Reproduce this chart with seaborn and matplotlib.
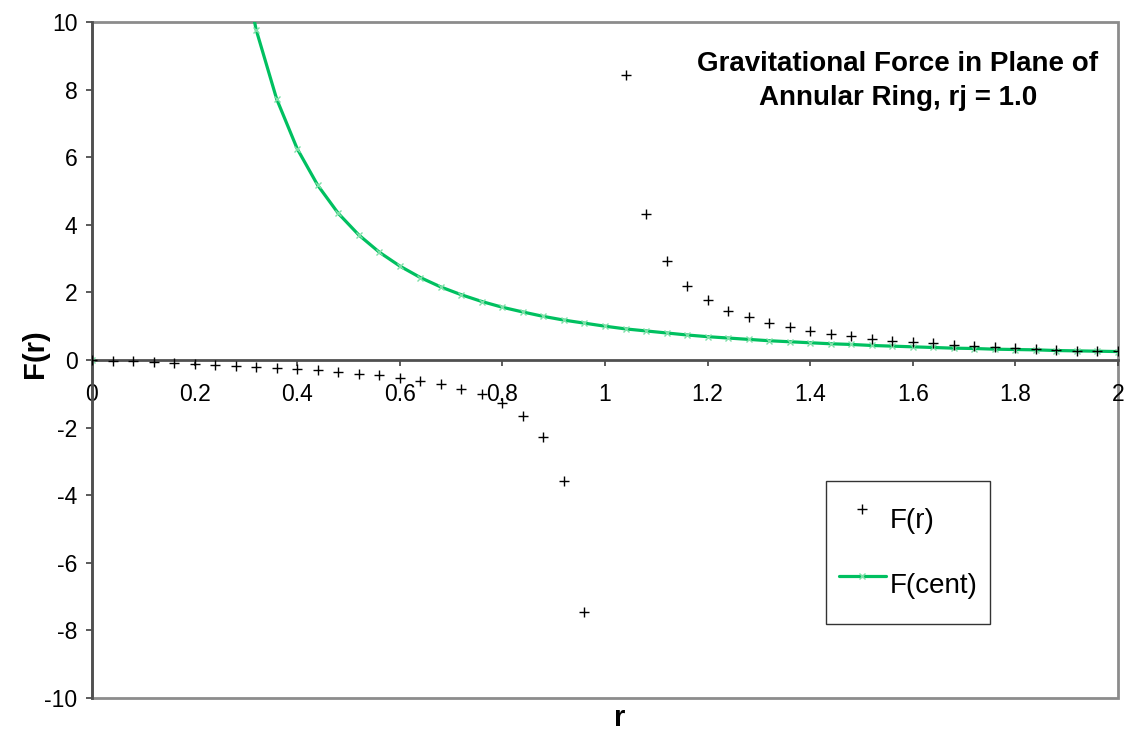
import numpy as np
import pandas as pd
import matplotlib
matplotlib.use("Agg")
import matplotlib.pyplot as plt
import seaborn as sns

# ---- data ----
r_f = [0.00, 0.04, 0.08, 0.12, 0.16, 0.20, 0.24, 0.28, 0.32, 0.36, 0.40, 0.44,
       0.48, 0.52, 0.56, 0.60, 0.64, 0.68, 0.72, 0.76, 0.80, 0.84, 0.88, 0.92,
       0.96, 1.04, 1.08, 1.12, 1.16, 1.20, 1.24, 1.28, 1.32, 1.36, 1.40, 1.44,
       1.48, 1.52, 1.56, 1.60, 1.64, 1.68, 1.72, 1.76, 1.80, 1.84, 1.88, 1.92,
       1.96, 2.00]
f_r = [0.00, -0.02, -0.04, -0.06, -0.09, -0.11, -0.14, -0.17, -0.20, -0.24, -0.27, -0.31,
       -0.35, -0.40, -0.45, -0.52, -0.61, -0.71, -0.86, -1.02, -1.28, -1.65, -2.29, -3.57,
       -7.45, 8.43, 4.32, 2.93, 2.19, 1.77, 1.46, 1.26, 1.09, 0.97, 0.86, 0.77,
       0.70, 0.63, 0.57, 0.52, 0.49, 0.45, 0.42, 0.39, 0.36, 0.33, 0.30, 0.28,
       0.26, 0.26]

r_cent = [0.28, 0.32, 0.36, 0.40, 0.44, 0.48, 0.52, 0.56, 0.60, 0.64, 0.68, 0.72,
          0.76, 0.80, 0.84, 0.88, 0.92, 0.96, 1.00, 1.04, 1.08, 1.12, 1.16, 1.20,
          1.24, 1.28, 1.32, 1.36, 1.40, 1.44, 1.48, 1.52, 1.56, 1.60, 1.64, 1.68,
          1.72, 1.76, 1.80, 1.84, 1.88, 1.92, 1.96, 2.00]
f_cent = [12.76, 9.77, 7.72, 6.25, 5.17, 4.34, 3.70, 3.19, 2.78, 2.44, 2.16, 1.93,
          1.73, 1.56, 1.42, 1.29, 1.18, 1.09, 1.00, 0.92, 0.86, 0.80, 0.74, 0.69,
          0.65, 0.61, 0.57, 0.54, 0.51, 0.48, 0.46, 0.43, 0.41, 0.39, 0.37, 0.35,
          0.34, 0.32, 0.31, 0.30, 0.28, 0.27, 0.26, 0.25]
r_cent0 = [0.0]
f_cent0 = [0.0]

x_ticks = [0, 0.2, 0.4, 0.6, 0.8, 1, 1.2, 1.4, 1.6, 1.8, 2]
x_labels = ["0", "0.2", "0.4", "0.6", "0.8", "1", "1.2", "1.4", "1.6", "1.8", "2"]
y_ticks = [-10, -8, -6, -4, -2, 0, 2, 4, 6, 8, 10]
y_labels = ["-10", "-8", "-6", "-4", "-2", "0", "2", "4", "6", "8", "10"]

title = "Gravitational Force in Plane of\nAnnular Ring, rj = 1.0"

# ---- plotting ----
sns.set_theme(style="white")
plt.rcParams["font.family"] = ["Liberation Sans", "DejaVu Sans"]
plt.rcParams["text.color"] = "black"

fig = plt.figure(figsize=(11.35, 7.49), dpi=100)
ax = fig.add_axes([92 / 1135, 1 - 698 / 749, (1118 - 92) / 1135, (698 - 22) / 749])

green = "#00C060"
df_r = pd.DataFrame({"r": r_f, "F": f_r})
df_c = pd.DataFrame({"r": r_cent, "F": f_cent})

sns.scatterplot(data=df_r, x="r", y="F", marker="+", color="black", s=45,
                linewidth=1.0, ax=ax, label="F(r)", zorder=3)
sns.lineplot(data=df_c, x="r", y="F", color=green, linewidth=2.3, marker="x",
             markersize=5, markeredgecolor="#7EE0A8", markeredgewidth=1.0,
             ax=ax, label="F(cent)", zorder=2)
ax.plot(r_cent0, f_cent0, linestyle="none", marker="x", markersize=5,
        markeredgecolor="#7EE0A8", markeredgewidth=1.0, zorder=2)

ax.set_xlim(0, 2)
ax.set_ylim(-10, 10)

# frame
ax.patch.set_facecolor("white")
ax.patch.set_edgecolor("#8c8c8c")
ax.patch.set_linewidth(2.0)
for s in ["top", "right"]:
    ax.spines[s].set_visible(False)
ax.spines["left"].set_color("#505050")
ax.spines["left"].set_linewidth(2.0)
ax.spines["left"].set_visible(True)
ax.spines["bottom"].set_position(("data", 0))
ax.spines["bottom"].set_color("#505050")
ax.spines["bottom"].set_linewidth(2.0)
ax.spines["bottom"].set_visible(True)
ax.spines["bottom"].set_zorder(1)

ax.set_xticks(x_ticks)
ax.set_xticklabels(x_labels)
ax.set_yticks(y_ticks)
ax.set_yticklabels(y_labels)
ax.tick_params(axis="x", direction="out", length=4.5, width=1.2, color="#404040",
               pad=12, labelsize=16.5, bottom=True, labelcolor="black")
ax.tick_params(axis="y", direction="out", length=4.5, width=1.2, color="#404040",
               pad=6, labelsize=16.5, left=True, labelcolor="black")

ax.set_xlabel("")
ax.set_ylabel("")
fig.text(620 / 1135, 1 - 718 / 749, "r", ha="center", va="center",
         fontsize=21, fontweight="bold", color="black")
fig.text(35 / 1135, 1 - 354 / 749, "F(r)", ha="center", va="center",
         fontsize=21, fontweight="bold", rotation=90, color="black")

ax.text((898 - 92) / 1026, (698 - 81) / 676, title, transform=ax.transAxes,
        ha="center", va="center", fontsize=20, fontweight="bold", linespacing=1.38,
        color="black")

leg = ax.legend(loc="upper left", bbox_to_anchor=((826 - 92) / 1026, (698 - 481) / 676),
                fontsize=20, frameon=True, fancybox=False, edgecolor="black",
                labelspacing=0.43, handlelength=1.7, handleheight=2.55,
                handletextpad=0.15, borderpad=0.45, borderaxespad=0)
leg.get_frame().set_linewidth(1.0)
leg.get_frame().set_facecolor("white")
for t in leg.get_texts():
    t.set_color("black")

fig.savefig("out.png", dpi=100, facecolor="white")
